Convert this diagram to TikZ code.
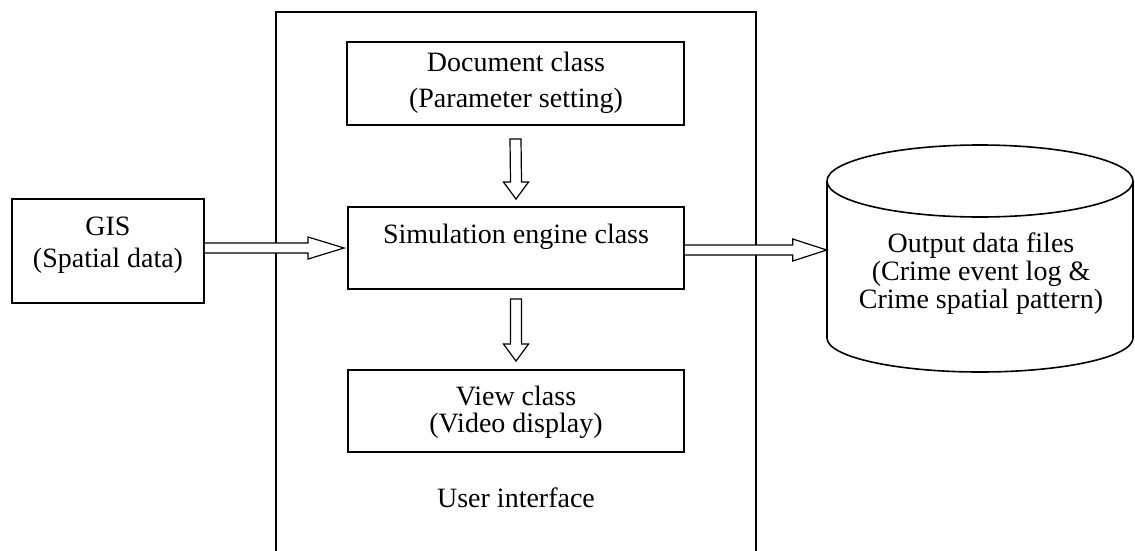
\documentclass[tikz,border=0pt]{standalone}
\usepackage{fontspec}
\setmainfont{Liberation Serif}
\usetikzlibrary{calc}
\begin{document}
\begin{tikzpicture}[x=0.75pt,y=-0.75pt,
  box/.style={draw,line width=1.4pt,rectangle,inner sep=0pt},
  txt/.style={anchor=base,inner sep=0pt,font=\fontsize{21}{24}\selectfont},
  frame/.style={line width=1.3pt},
  hollow/.style={draw,line width=0.9pt,line join=miter,fill=white},
  cyl/.style={line width=1.2pt}]
\useasboundingbox (0,0) rectangle (1135,550);

% outer user interface frame
\draw[frame] (276,552) -- (276,12) -- (756,12) -- (756,552);
\node[txt] (uilabel) at (516,507) {User interface};

% boxes
\node[box,minimum width=192*0.75pt,minimum height=104*0.75pt] (gis) at (108,251) {};
\node[box,minimum width=337*0.75pt,minimum height=83*0.75pt] (doc) at (515.5,83.5) {};
\node[box,minimum width=336*0.75pt,minimum height=82*0.75pt] (sim) at (516,248) {};
\node[box,minimum width=336*0.75pt,minimum height=82*0.75pt] (view) at (516,411) {};

% texts
\node[txt] (gist1) at (108,235) {GIS};
\node[txt] (gist2) at (108,267) {(Spatial data)};
\node[txt] (doct1) at (516,71) {Document class};
\node[txt] (doct2) at (516,107) {(Parameter setting)};
\node[txt] (simt) at (516,243) {Simulation engine class};
\node[txt] (viewt1) at (516,405) {View class};
\node[txt] (viewt2) at (516,432) {(Video display)};

% cylinder
\node[inner sep=0pt,minimum width=306*0.75pt,minimum height=227*0.75pt] (out) at (980,258.5) {};
\draw[cyl] (980,181) ellipse [x radius=153, y radius=36];
\draw[cyl] (827,181) -- (827,338) arc [start angle=180, end angle=0, x radius=153, y radius=34] -- (1133,181);
\node[txt] (outt1) at (981,252) {Output data files};
\node[txt] (outt2) at (981,280) {(Crime event log \&};
\node[txt] (outt3) at (981,308) {Crime spatial pattern)};

% hollow arrows
\coordinate (a1s) at (gis.east |- 0,248);
\coordinate (a1e) at ($(sim.west)+(-3,0)$);
\draw[hollow] ($(a1s)+(0,-5)$) -- ($(a1e)+(-36,-5)$) -- ($(a1e)+(-36,-11)$) -- (a1e)
  -- ($(a1e)+(-36,11)$) -- ($(a1e)+(-36,5)$) -- ($(a1s)+(0,5)$);

\coordinate (a2s) at ($(sim.east)+(0,2)$);
\coordinate (a2e) at (out.west |- a2s);
\draw[hollow] ($(a2s)+(0,-5)$) -- ($(a2e)+(-34,-5)$) -- ($(a2e)+(-34,-11)$) -- (a2e)
  -- ($(a2e)+(-34,11)$) -- ($(a2e)+(-34,5)$) -- ($(a2s)+(0,5)$);

\coordinate (a3s) at ($(doc.south)+(0,13)$);
\coordinate (a3e) at ($(sim.north)+(0,-7)$);
\draw[hollow] ($(a3s)+(-5.5,0)$) -- ($(a3e)+(-5.5,-17)$) -- ($(a3e)+(-12.5,-17)$) -- (a3e)
  -- ($(a3e)+(12.5,-17)$) -- ($(a3e)+(5.5,-17)$) -- ($(a3s)+(5.5,0)$) -- cycle;

\coordinate (a4s) at ($(sim.south)+(0,9)$);
\coordinate (a4e) at ($(view.north)+(0,-8)$);
\draw[hollow] ($(a4s)+(-5.5,0)$) -- ($(a4e)+(-5.5,-17)$) -- ($(a4e)+(-12.5,-17)$) -- (a4e)
  -- ($(a4e)+(12.5,-17)$) -- ($(a4e)+(5.5,-17)$) -- ($(a4s)+(5.5,0)$) -- cycle;
\end{tikzpicture}
\end{document}
